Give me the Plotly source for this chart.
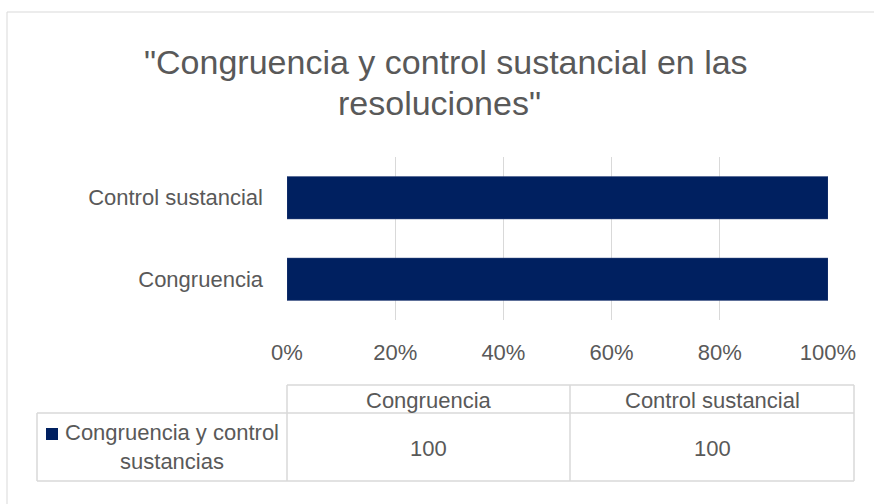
import plotly.graph_objects as go

# ---- data ----
categories = ["Congruencia", "Control sustancial"]
values = [100, 100]
series_name = "Congruencia y control sustancias"
x_ticks = [0, 20, 40, 60, 80, 100]
x_tick_labels = ["0%", "20%", "40%", "60%", "80%", "100%"]
title_lines = ['"Congruencia y control sustancial en las', 'resoluciones"']

BAR_COLOR = "#002060"
TEXT_COLOR = "#595959"
GRID_COLOR = "#d9d9d9"
FONT = "Liberation Sans, Arial, sans-serif"
FS = 22
TFS = 34

W, H = 874, 504
L, R, T, B = 287, 828, 157, 320  # plot area pixels


def px(x):
    return (x - L) / (R - L)


def py(y):
    return (B - y) / (B - T)


fig = go.Figure()
fig.add_trace(go.Bar(
    y=categories, x=values, orientation="h", name=series_name,
    marker=dict(color=BAR_COLOR, line=dict(color="#3a4f80", width=0.5)),
    showlegend=False, hoverinfo="x+y",
))

shapes = []
annotations = []

# outer chart border
shapes.append(dict(type="rect", xref="paper", yref="paper",
                   x0=px(7), x1=px(880), y0=py(12), y1=py(510),
                   line=dict(color="#d9d9d9", width=1), layer="below"))

# title
title_x = [446, 439]
title_y = [62, 103]
for line, tx, ty in zip(title_lines, title_x, title_y):
    annotations.append(dict(text=line, xref="paper", yref="paper",
                            x=px(tx), y=py(ty), xanchor="center", yanchor="middle",
                            showarrow=False, font=dict(family=FONT, size=TFS, color=TEXT_COLOR)))

# data table
tl, c1, c2, tr = 37, 287, 570, 854
ttop, hdiv, tbot = 385, 413, 481
lc = "#d9d9d9"
def hline(x0, x1, y):
    shapes.append(dict(type="line", xref="paper", yref="paper", x0=px(x0), x1=px(x1),
                       y0=py(y), y1=py(y), line=dict(color=lc, width=1.5)))
def vline(x, y0, y1):
    shapes.append(dict(type="line", xref="paper", yref="paper", x0=px(x), x1=px(x),
                       y0=py(y0), y1=py(y1), line=dict(color=lc, width=1.5)))
hline(c1, tr, ttop)
hline(tl, tr, hdiv)
hline(tl, tr, tbot)
vline(tl, hdiv, tbot)
vline(c1, ttop, tbot)
vline(c2, ttop, tbot)
vline(tr, ttop, tbot)

col_centers = [(c1 + c2) / 2, (c2 + tr) / 2]
for cat, xc in zip(categories, col_centers):
    annotations.append(dict(text=cat, xref="paper", yref="paper", x=px(xc), y=py(400),
                            xanchor="center", yanchor="middle", showarrow=False,
                            font=dict(family=FONT, size=FS, color=TEXT_COLOR)))
for v, xc in zip(values, col_centers):
    annotations.append(dict(text=str(v), xref="paper", yref="paper", x=px(xc), y=py(448),
                            xanchor="center", yanchor="middle", showarrow=False,
                            font=dict(family=FONT, size=FS, color=TEXT_COLOR)))
# legend key in table
shapes.append(dict(type="rect", xref="paper", yref="paper", x0=px(46), x1=px(58),
                   y0=py(428), y1=py(440), fillcolor=BAR_COLOR, line=dict(width=0)))
words = series_name.split(" ")
annotations.append(dict(text=" ".join(words[:3]) + "<br>" + " ".join(words[3:]),
                        xref="paper", yref="paper", x=px(172), y=py(447),
                        xanchor="center", yanchor="middle", align="center", showarrow=False,
                        font=dict(family=FONT, size=FS, color=TEXT_COLOR)))

fig.update_layout(
    width=W, height=H,
    margin=dict(l=L, r=W - R, t=T, b=H - B, pad=0),
    paper_bgcolor="white", plot_bgcolor="white",
    font=dict(family=FONT, color=TEXT_COLOR),
    bargap=0.48,
    shapes=shapes, annotations=annotations,
    xaxis=dict(range=[0, 100], tickvals=x_ticks, ticktext=x_tick_labels,
               showgrid=True, gridcolor=GRID_COLOR, gridwidth=1, zeroline=False,
               showline=False, ticks="", tickfont=dict(size=FS, color=TEXT_COLOR),
               ticklabelstandoff=17, fixedrange=True),
    yaxis=dict(showgrid=False, zeroline=False, showline=False, ticks="",
               tickfont=dict(size=FS, color=TEXT_COLOR), ticklabelstandoff=23,
               fixedrange=True),
)

fig.write_html("out.html", post_script="document.body.style.margin='0';",
               config={"displayModeBar": False})
